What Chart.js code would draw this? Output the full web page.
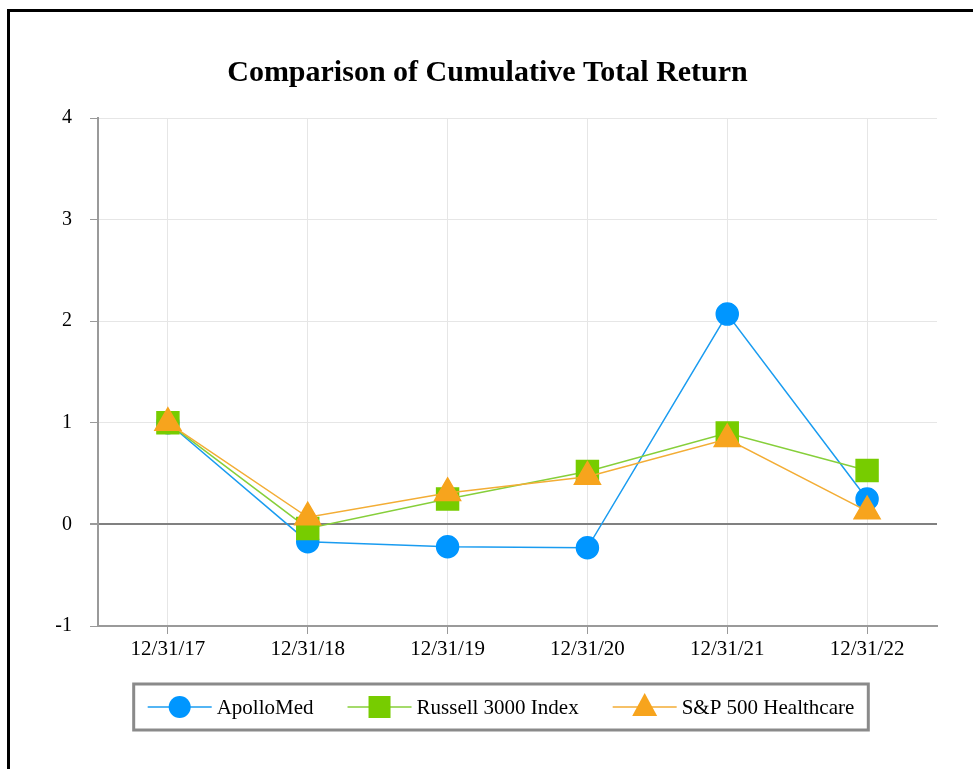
<!DOCTYPE html>
<html>
<head>
<meta charset="utf-8">
<script src="https://cdn.jsdelivr.net/npm/chart.js@4.4.1/dist/chart.umd.min.js"></script>
<style>
  html, body { margin: 0; padding: 0; background: #fff; overflow: hidden; }
  #frame { position: absolute; left: 7px; top: 9px; width: 2000px; height: 2000px; border: 3px solid #000; }
  #chart { position: absolute; left: 0; top: 0; }
</style>
</head>
<body>
<div id="frame"></div>
<canvas id="chart" width="973" height="769"></canvas>
<script>
'use strict';

const dates = ['12/31/17', '12/31/18', '12/31/19', '12/31/20', '12/31/21', '12/31/22'];
const apolloMed = [1.0, -0.17, -0.22, -0.23, 2.07, 0.25];
const russell3000 = [1.0, -0.04, 0.25, 0.52, 0.90, 0.53];
const spHealthcare = [1.0, 0.07, 0.31, 0.47, 0.84, 0.13];
const yTicks = [-1, 0, 1, 2, 3, 4];

const serif = '"Liberation Serif", "Times New Roman", serif';

// legend drawn as line + marker inside a grey box, like the original
const boxLegend = {
    id: 'boxLegend',
    afterDraw(chart) {
        const ctx = chart.ctx;
        ctx.save();
        ctx.font = '21px ' + serif;
        const seg = 64, gap = 5, itemGap = 34, cy = 707, centerX = 501;
        const items = chart.data.datasets.map(ds => ({ ds: ds, w: seg + gap + ctx.measureText(ds.label).width }));
        const total = items.reduce((s, it) => s + it.w, 0) + itemGap * (items.length - 1);
        let x = centerX - total / 2;

        ctx.strokeStyle = '#8a8a8a';
        ctx.lineWidth = 3;
        ctx.strokeRect(x - 14, cy - 23, total + 28, 46);

        items.forEach(it => {
            const ds = it.ds;
            ctx.strokeStyle = ds.borderColor;
            ctx.lineWidth = 1.5;
            ctx.beginPath();
            ctx.moveTo(x, cy);
            ctx.lineTo(x + seg, cy);
            ctx.stroke();

            const mx = x + seg / 2;
            ctx.fillStyle = ds.pointBackgroundColor;
            ctx.beginPath();
            if (ds.pointStyle === 'circle') {
                ctx.arc(mx, cy, 11, 0, Math.PI * 2);
            } else if (ds.pointStyle === 'rect') {
                ctx.rect(mx - 11, cy - 11, 22, 22);
            } else {
                ctx.moveTo(mx, cy - 14);
                ctx.lineTo(mx + 12.5, cy + 9);
                ctx.lineTo(mx - 12.5, cy + 9);
                ctx.closePath();
            }
            ctx.fill();

            ctx.fillStyle = '#000';
            ctx.textBaseline = 'middle';
            ctx.textAlign = 'left';
            ctx.fillText(ds.label, x + seg + gap, cy + 1);
            x += it.w + itemGap;
        });
        ctx.restore();
    }
};

new Chart(document.getElementById('chart'), {
    type: 'line',
    data: {
        labels: dates,
        datasets: [{
            label: 'ApolloMed',
            data: apolloMed,
            borderColor: '#1a9cf0',
            backgroundColor: '#0096ff',
            pointBackgroundColor: '#0096ff',
            pointBorderColor: '#0096ff',
            pointStyle: 'circle',
            pointRadius: 11,
            borderWidth: 1.5,
            order: 2
        }, {
            label: 'Russell 3000 Index',
            data: russell3000,
            borderColor: '#86cf3a',
            backgroundColor: '#77cc00',
            pointBackgroundColor: '#77cc00',
            pointBorderColor: '#77cc00',
            pointStyle: 'rect',
            pointRadius: 15.5,
            borderWidth: 1.5,
            order: 1
        }, {
            label: 'S&P 500 Healthcare',
            data: spHealthcare,
            borderColor: '#f3ad35',
            backgroundColor: '#f7a41d',
            pointBackgroundColor: '#f7a41d',
            pointBorderColor: '#f7a41d',
            pointStyle: 'triangle',
            pointRadius: 15,
            borderWidth: 1.5,
            order: 0
        }]
    },
    options: {
        responsive: false,
        animation: false,
        devicePixelRatio: 1,
        layout: { padding: { left: 38, right: 36, top: 40, bottom: 103 } },
        plugins: {
            legend: { display: false },
            tooltip: { enabled: false },
            title: {
                display: true,
                text: 'Comparison of Cumulative Total Return',
                color: '#000',
                font: { family: serif, size: 30, weight: 'bold' },
                padding: { top: 15, bottom: 27 }
            }
        },
        scales: {
            x: {
                offset: true,
                afterFit: s => { s.height = 40; },
                grid: { color: '#e6e6e6', tickColor: '#9a9a9a', tickLength: 8, offset: false },
                border: { color: '#9a9a9a', width: 2 },
                ticks: { color: '#000', font: { family: serif, size: 21 }, padding: 3, maxRotation: 0 }
            },
            y: {
                min: -1,
                max: 4,
                afterFit: s => { s.width = 60; },
                afterBuildTicks: s => { s.ticks = yTicks.map(v => ({ value: v })); },
                grid: {
                    color: c => c.tick && c.tick.value === 0 ? '#808080' : '#e6e6e6',
                    lineWidth: c => c.tick && c.tick.value === 0 ? 2 : 1,
                    tickColor: '#9a9a9a',
                    tickLength: 8
                },
                border: { color: '#9a9a9a', width: 2 },
                ticks: { color: '#000', font: { family: serif, size: 20 }, padding: 18 }
            }
        }
    },
    plugins: [boxLegend]
});
</script>
</body>
</html>
